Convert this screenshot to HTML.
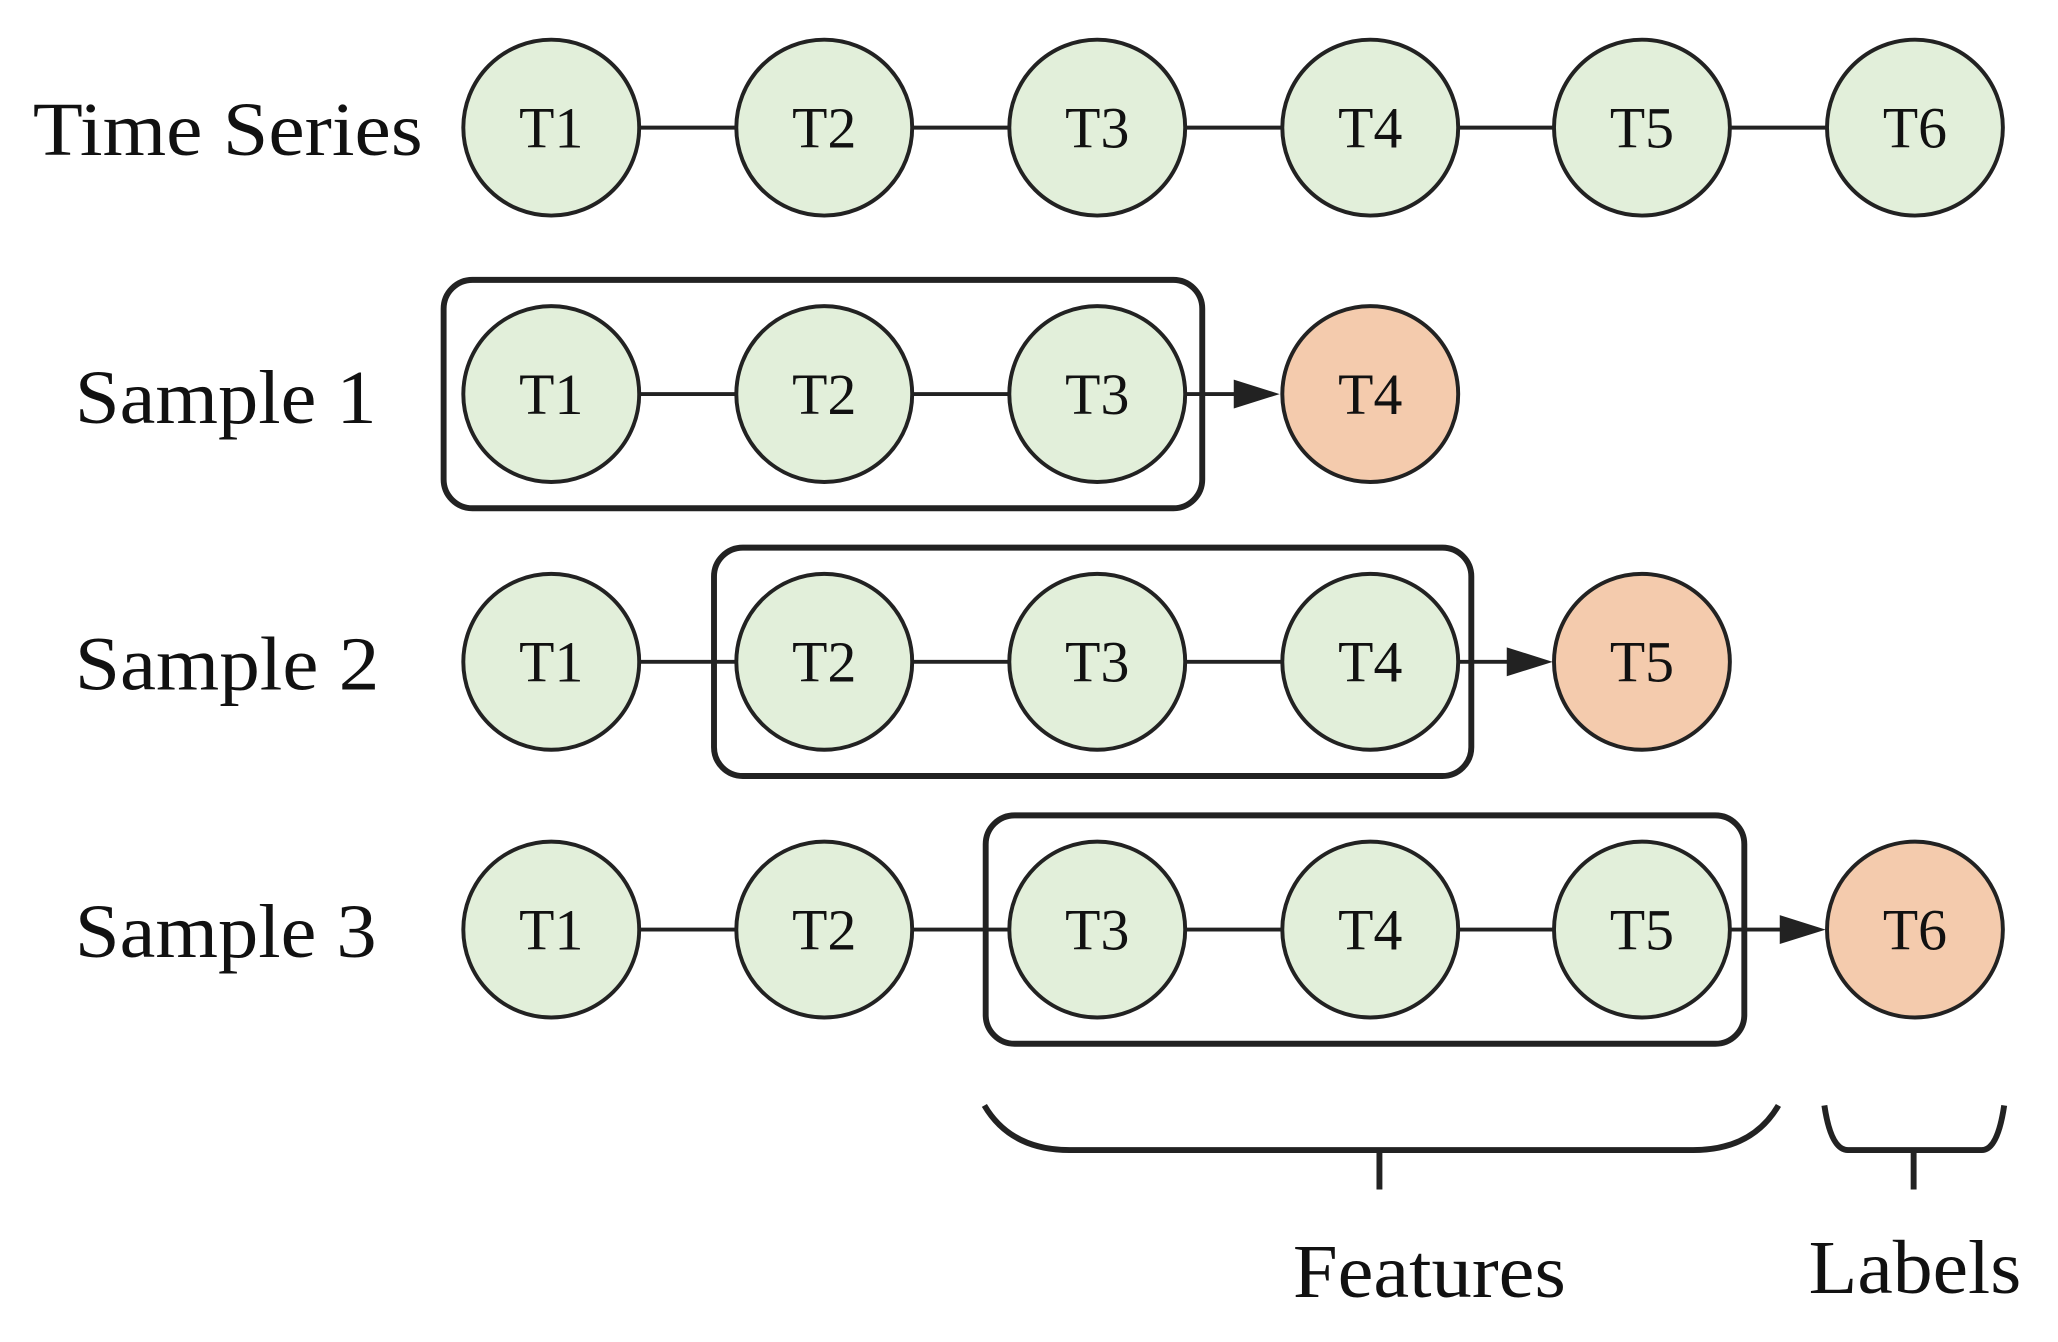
<!DOCTYPE html>
<html><head><meta charset="utf-8"><style>html,body{margin:0;padding:0;background:#fff}svg{display:block}</style></head>
<body>
<svg width="2058" height="1342" viewBox="0 0 1568 1022" xmlns="http://www.w3.org/2000/svg" font-family="Liberation Serif, serif">
<defs>
<marker id="a" markerWidth="10" markerHeight="10" refX="10" refY="5" orient="auto" markerUnits="userSpaceOnUse" viewBox="0 0 10 10">
</marker>
</defs>
<g stroke="#222" stroke-width="3">
<!-- row lines -->
<line x1="420" y1="97" x2="1459" y2="97"/>
<line x1="420" y1="300" x2="836" y2="300"/>
<line x1="420" y1="504" x2="1044" y2="504"/>
<line x1="420" y1="708" x2="1251" y2="708"/>
<line x1="900" y1="300" x2="945" y2="300"/>
<line x1="1108" y1="504" x2="1152" y2="504"/>
<line x1="1316" y1="708" x2="1360" y2="708"/>
</g>
<g fill="#222">
<polygon points="975,300 940,289 940,311"/>
<polygon points="1183,504 1148,493 1148,515"/>
<polygon points="1391,708 1356,697 1356,719"/>
</g>
<g stroke="#222" stroke-width="3" fill="#e2efda">
<circle cx="420" cy="97" r="67"/><circle cx="628" cy="97" r="67"/><circle cx="836" cy="97" r="67"/><circle cx="1044" cy="97" r="67"/><circle cx="1251" cy="97" r="67"/><circle cx="1459" cy="97" r="67"/>
<circle cx="420" cy="300" r="67"/><circle cx="628" cy="300" r="67"/><circle cx="836" cy="300" r="67"/>
<circle cx="420" cy="504" r="67"/><circle cx="628" cy="504" r="67"/><circle cx="836" cy="504" r="67"/><circle cx="1044" cy="504" r="67"/>
<circle cx="420" cy="708" r="67"/><circle cx="628" cy="708" r="67"/><circle cx="836" cy="708" r="67"/><circle cx="1044" cy="708" r="67"/><circle cx="1251" cy="708" r="67"/>
</g>
<g stroke="#222" stroke-width="3" fill="#f4cbad">
<circle cx="1044" cy="300" r="67"/><circle cx="1251" cy="504" r="67"/><circle cx="1459" cy="708" r="67"/>
</g>
<g stroke="#222" stroke-width="4.5" fill="none">
<rect x="338" y="213" width="578" height="174" rx="22"/>
<rect x="544" y="417" width="577" height="174" rx="22"/>
<rect x="751" y="621" width="578" height="174" rx="22"/>
<path d="M750,842 Q770,876 815,876 L1290,876 Q1335,876 1355,842"/>
<line x1="1051" y1="876" x2="1051" y2="906"/>
<path d="M1390,842 Q1395,876 1408,876 L1510,876 Q1522,876 1527,842"/>
<line x1="1458" y1="876" x2="1458" y2="906"/>
</g>
<g font-size="44" text-anchor="middle" fill="#111">
<text x="420" y="112">T1</text><text x="628" y="112">T2</text><text x="836" y="112">T3</text><text x="1044" y="112">T4</text><text x="1251" y="112">T5</text><text x="1459" y="112">T6</text>
<text x="420" y="315">T1</text><text x="628" y="315">T2</text><text x="836" y="315">T3</text><text x="1044" y="315">T4</text>
<text x="420" y="519">T1</text><text x="628" y="519">T2</text><text x="836" y="519">T3</text><text x="1044" y="519">T4</text><text x="1251" y="519">T5</text>
<text x="420" y="723">T1</text><text x="628" y="723">T2</text><text x="836" y="723">T3</text><text x="1044" y="723">T4</text><text x="1251" y="723">T5</text><text x="1459" y="723">T6</text>
</g>
<g font-size="58" fill="#111">
<text x="25" y="118" textLength="297" lengthAdjust="spacingAndGlyphs">Time Series</text>
<text x="57" y="322" textLength="230" lengthAdjust="spacingAndGlyphs">Sample 1</text>
<text x="57" y="525" textLength="232" lengthAdjust="spacingAndGlyphs">Sample 2</text>
<text x="57" y="729" textLength="230" lengthAdjust="spacingAndGlyphs">Sample 3</text>
<text x="985" y="988" textLength="208" lengthAdjust="spacingAndGlyphs">Features</text>
<text x="1378" y="985" textLength="162" lengthAdjust="spacingAndGlyphs">Labels</text>
</g>
</svg>
</body></html>
